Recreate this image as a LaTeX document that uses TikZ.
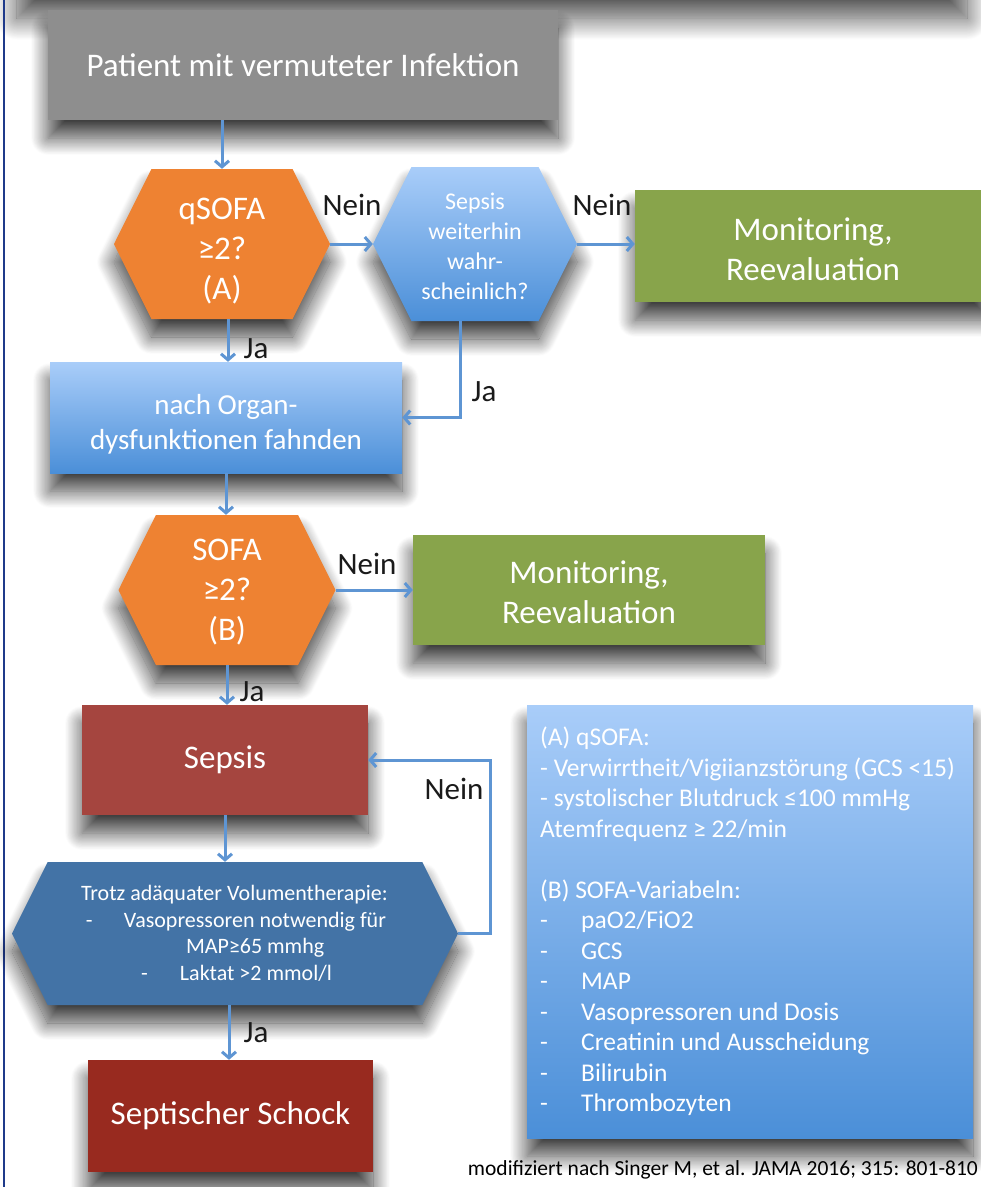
\documentclass[tikz,border=0pt]{standalone}
\usepackage{fontspec}
\setmainfont{Carlito}
\usetikzlibrary{shapes.symbols, arrows.meta, shadows.blur, calc}

\definecolor{framenavy}{HTML}{1F3A8A}
\definecolor{boxgray}{HTML}{8E8E8E}
\definecolor{qorange}{HTML}{EE8232}
\definecolor{okgreen}{HTML}{88A44B}
\definecolor{sepsisred}{HTML}{A5453F}
\definecolor{shockred}{HTML}{982A1F}
\definecolor{steelblue}{HTML}{4373A6}
\definecolor{lightblue}{HTML}{A9CDF9}
\definecolor{midblue}{HTML}{4B8FD8}
\definecolor{arrowblue}{HTML}{5E95D3}
\definecolor{labelblack}{HTML}{1A1A1A}

% centred block of lines, pushed down by #2
\newcommand{\lowblock}[3]{\parbox{#1}{\centering\vspace*{#2}#3}}

\begin{document}
\begin{tikzpicture}[x=1pt, y=-1pt,
  softshadow/.style={blur shadow={shadow xshift=0pt, shadow yshift=-18pt,
      shadow blur radius=17pt, shadow blur steps=30, shadow opacity=75}},
  flowbox/.style={rectangle, inner sep=0pt, text=white, align=center, softshadow},
  hexbox/.style={signal, signal to=west and east, signal pointer angle=127,
      inner sep=0pt, text=white, align=center, softshadow},
  bigtext/.style={font=\fontsize{33}{40}\selectfont},
  conn/.style={draw=arrowblue, line width=3pt, -{Straight Barb[length=6pt, width=14pt]}},
  answer/.style={text=labelblack, font=\fontsize{31}{34}\selectfont, inner sep=0pt}
]
\useasboundingbox (0,0) rectangle (981,1187);

% shadow of the panel cut off at the top edge
\begin{scope}
  \clip (0,0) rectangle (981,1187);
  \node[fill=white, minimum width=950, minimum height=60, inner sep=0pt,
        blur shadow={shadow xshift=0pt, shadow yshift=-30pt, shadow blur radius=22pt,
                     shadow blur steps=30, shadow opacity=70}]
        (toppanel) at (492,-42) {};
\end{scope}

% left frame line
\draw[framenavy, line width=2.5pt] (4,0) -- (4,1187);

% main flow
\node[flowbox, bigtext, fill=boxgray, minimum width=510, minimum height=110]
  (start) at (303,65) {\raisebox{-4pt}{Patient mit vermuteter Infektion}};

\node[hexbox, bigtext, fill=qorange, minimum width=216, minimum height=150]
  (qsofa) at (222,244) {\lowblock{90pt}{14pt}{qSOFA\\≥2?\\(A)}};

\node[hexbox, top color=lightblue, bottom color=midblue, minimum width=204, minimum height=154,
      font=\fontsize{24}{30}\selectfont]
  (likely) at (475,244) {\lowblock{112pt}{4pt}{Sepsis\\weiterhin\\wahr-\\scheinlich?}};

\node[flowbox, bigtext, fill=okgreen, minimum width=356, minimum height=112]
  (monA) at (813,246) {\lowblock{300pt}{6pt}{Monitoring,\\Reevaluation}};

\node[flowbox, top color=lightblue, bottom color=midblue, minimum width=352, minimum height=111,
      font=\fontsize{29}{35}\selectfont]
  (organ) at (226,417.5) {\lowblock{340pt}{14pt}{nach Organ-\\dysfunktionen fahnden}};

\node[hexbox, bigtext, fill=qorange, minimum width=217, minimum height=150]
  (sofa) at (227,590) {\lowblock{80pt}{4pt}{SOFA\\≥2?\\(B)}};

\node[flowbox, bigtext, fill=okgreen, minimum width=352, minimum height=110]
  (monB) at (589,590) {\lowblock{300pt}{4pt}{Monitoring,\\Reevaluation}};

\node[flowbox, bigtext, fill=sepsisred, minimum width=286, minimum height=110]
  (sepsis) at (225,760) {\raisebox{-3pt}{Sepsis}};

\node[hexbox, fill=steelblue, minimum width=446, minimum height=143,
      font=\fontsize{22}{26.5}\selectfont]
  (shockq) at (235,933.5) {%
    \makebox[360pt][l]{\hspace*{26pt}Trotz adäquater Volumentherapie:}\\
    \makebox[360pt][l]{\hspace*{31pt}\makebox[38pt][l]{-}Vasopressoren notwendig für}\\
    \makebox[360pt][l]{\hspace*{131pt}MAP≥65 mmhg}\\
    \makebox[360pt][l]{\hspace*{86pt}\makebox[39pt][l]{-}Laktat >2 mmol/l}};

\node[flowbox, bigtext, fill=shockred, minimum width=285, minimum height=112]
  (shock) at (230.5,1116) {\raisebox{-3pt}{Septischer Schock}};

% legend panel
\node[rectangle, top color=lightblue, bottom color=midblue, minimum width=446, minimum height=433,
      inner sep=0pt, softshadow] (legend) at (750,921.5) {};
\node[anchor=north west, inner sep=0pt, text=white, align=left,
      font=\fontsize{25.5}{30.5}\selectfont] (legendtext) at (540,727)
  {(A) qSOFA:\\
   - Verwirrtheit/Vigiianzstörung (GCS <15)\\
   - systolischer Blutdruck ≤100 mmHg\\
   Atemfrequenz ≥ 22/min\\
   \mbox{}\\
   (B) SOFA-Variabeln:\\
   \makebox[41pt][l]{-}paO2/FiO2\\
   \makebox[41pt][l]{-}GCS\\
   \makebox[41pt][l]{-}MAP\\
   \makebox[41pt][l]{-}Vasopressoren und Dosis\\
   \makebox[41pt][l]{-}Creatinin und Ausscheidung\\
   \makebox[41pt][l]{-}Bilirubin\\
   \makebox[41pt][l]{-}Thrombozyten};

\node[anchor=east, inner sep=0pt, text=black, font=\fontsize{21.5}{24}\selectfont]
  (source) at (978,1170) {modifiziert nach Singer M, et al. JAMA 2016; 315: 801-810};

% connectors
\draw[conn] (qsofa.north |- start.south) -- (qsofa.north);
\draw[conn] (qsofa.east) -- (likely.west);
\draw[conn] (likely.east) -- (monA.west |- likely.east);
\draw[conn] ([xshift=6pt]qsofa.south) -- ([xshift=6pt]qsofa.south |- organ.north);
\draw[conn] ([xshift=-15pt]likely.south) |- (organ.east);
\draw[conn] (organ.south) -- (organ.south |- sofa.north);
\draw[conn] (sofa.east) -- (sofa.east -| monB.west);
\draw[conn] (sofa.south) -- (sofa.south |- sepsis.north);
\draw[conn] (sepsis.south) -- (sepsis.south |- shockq.north);
\coordinate (loopturn) at ($(shockq.east)+(32,0)$);
\draw[conn] (shockq.east) -- (loopturn) |- (sepsis.east);
\draw[conn] ([xshift=-6pt]shockq.south) -- ([xshift=-6pt]shockq.south |- shock.north);

% answer labels
\node[answer] (n1) at (352,205) {Nein};
\node[answer] (n2) at (602,205) {Nein};
\node[answer] (j1) at (256,349) {Ja};
\node[answer] (j2) at (484,392) {Ja};
\node[answer] (n3) at (367,564) {Nein};
\node[answer] (j3) at (252,692) {Ja};
\node[answer] (n4) at (454,789) {Nein};
\node[answer] (j4) at (256,1033) {Ja};
\end{tikzpicture}
\end{document}
